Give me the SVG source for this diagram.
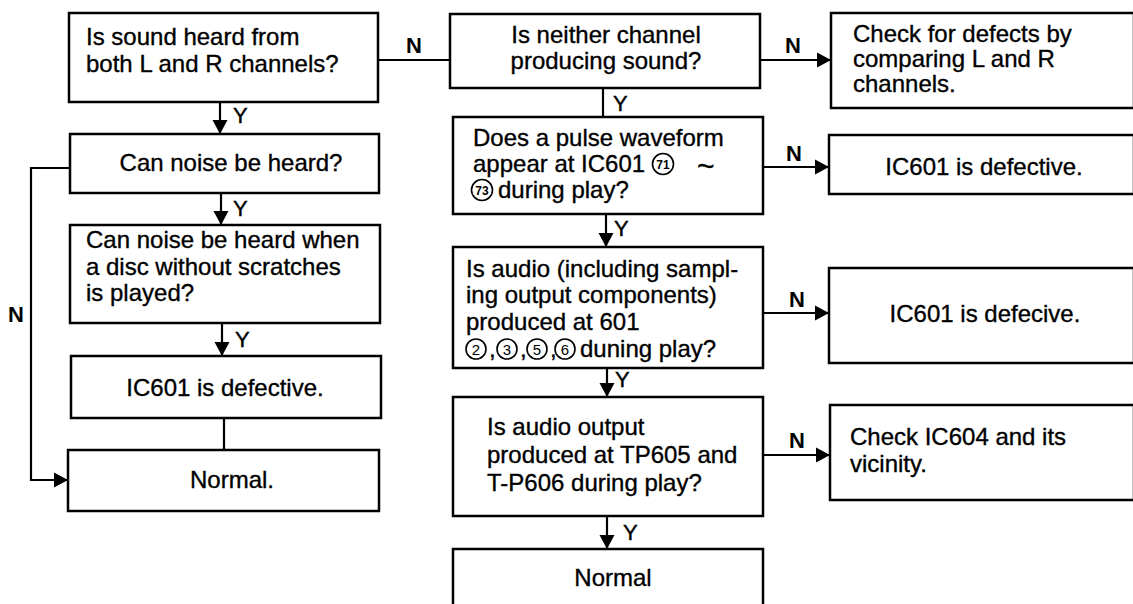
<svg xmlns="http://www.w3.org/2000/svg" width="1133" height="604" viewBox="0 0 1133 604">
<style>
.box{fill:#fff;stroke:#000;stroke-width:2.5}
.t{font-family:"Liberation Sans",Arial,sans-serif;font-size:24px;fill:#000;stroke:#000;stroke-width:0.35}
.c{text-anchor:middle}
.lbl{font-family:"Liberation Sans",Arial,sans-serif;font-size:22px;fill:#000;stroke:#000;stroke-width:0.4}
.n{font-weight:bold;stroke-width:0}
.ln{fill:none;stroke:#000;stroke-width:2.2}
.cir{fill:none;stroke:#000;stroke-width:1.6}
.cn{font-family:"Liberation Sans",Arial,sans-serif;font-size:12px;font-weight:bold;text-anchor:middle;fill:#000}
.cd{font-family:"Liberation Sans",Arial,sans-serif;font-size:15px;text-anchor:middle;fill:#000}
</style>
<defs>
<marker id="ah" markerUnits="userSpaceOnUse" markerWidth="16" markerHeight="16" refX="14" refY="8" orient="auto">
<path d="M0,0.5 L14,8 L0,15.5 Z" fill="#000"/>
</marker>
</defs>
<rect width="1133" height="604" fill="#fff"/>

<g id="connectors">
<path class="ln" d="M220,102 V134" marker-end="url(#ah)"/>
<path class="ln" d="M221,193 V225" marker-end="url(#ah)"/>
<path class="ln" d="M222,323 V356" marker-end="url(#ah)"/>
<path class="ln" d="M224,418 V450"/>
<path class="ln" d="M70,168 H31 V480 H68" marker-end="url(#ah)"/>
<path class="ln" d="M378,60 H450"/>
<path class="ln" d="M603,88 V117"/>
<path class="ln" d="M606,214 V247" marker-end="url(#ah)"/>
<path class="ln" d="M607,368 V397" marker-end="url(#ah)"/>
<path class="ln" d="M607,516 V549" marker-end="url(#ah)"/>
<path class="ln" d="M760,60 H831" marker-end="url(#ah)"/>
<path class="ln" d="M763,167 H829" marker-end="url(#ah)"/>
<path class="ln" d="M763,313 H829" marker-end="url(#ah)"/>
<path class="ln" d="M763,455 H830" marker-end="url(#ah)"/>
<text class="lbl" x="233" y="123">Y</text>
<text class="lbl" x="233" y="216">Y</text>
<text class="lbl" x="235" y="347">Y</text>
<text class="lbl n" x="8" y="322">N</text>
<text class="lbl n" x="406" y="53">N</text>
<text class="lbl" x="613" y="111">Y</text>
<text class="lbl" x="614" y="236">Y</text>
<text class="lbl" x="615" y="387">Y</text>
<text class="lbl" x="623" y="540">Y</text>
<text class="lbl n" x="785" y="53">N</text>
<text class="lbl n" x="786" y="161">N</text>
<text class="lbl n" x="789" y="307">N</text>
<text class="lbl n" x="789" y="448">N</text>
</g>

<g id="n1">
<rect class="box" x="69" y="13" width="309" height="89"/>
<text class="t" x="86" y="45">Is sound heard from</text>
<text class="t" x="86" y="72">both L and R channels?</text>
</g>
<g id="n2">
<rect class="box" x="70" y="134" width="309" height="59"/>
<text class="t c" x="231" y="171">Can noise be heard?</text>
</g>
<g id="n3">
<rect class="box" x="70" y="225" width="310" height="98"/>
<text class="t" x="86" y="248">Can noise be heard when</text>
<text class="t" x="86" y="275">a disc without scratches</text>
<text class="t" x="86" y="301">is played?</text>
</g>
<g id="n4">
<rect class="box" x="71" y="356" width="310" height="62"/>
<text class="t c" x="225" y="396">IC601 is defective.</text>
</g>
<g id="n5">
<rect class="box" x="68" y="450" width="311" height="61"/>
<text class="t c" x="232" y="488">Normal.</text>
</g>

<g id="n6">
<rect class="box" x="450" y="14" width="310" height="74"/>
<text class="t c" x="606" y="43">Is neither channel</text>
<text class="t c" x="606" y="69">producing sound?</text>
</g>
<g id="n7">
<rect class="box" x="453" y="117" width="310" height="97"/>
<text class="t" x="473" y="146">Does a pulse waveform</text>
<text class="t" x="473" y="172">appear at IC601</text>
<circle class="cir" cx="663" cy="164" r="10.5"/>
<text class="cn" x="663" y="168.5">71</text>
<text class="t" x="697" y="176" style="font-size:30px">~</text>
<circle class="cir" cx="482" cy="190" r="10.5"/>
<text class="cn" x="482" y="194.5">73</text>
<text class="t" x="498" y="198">during play?</text>
</g>
<g id="n8">
<rect class="box" x="453" y="247" width="310" height="121"/>
<text class="t" x="466" y="277">Is audio (including sampl-</text>
<text class="t" x="466" y="303">ing output components)</text>
<text class="t" x="466" y="330">produced at 601</text>
<circle class="cir" cx="476" cy="349" r="10"/>
<text class="cd" x="476" y="354.5">2</text>
<text class="t" x="489" y="357">,</text>
<circle class="cir" cx="507" cy="349" r="10"/>
<text class="cd" x="507" y="354.5">3</text>
<text class="t" x="520" y="357">,</text>
<circle class="cir" cx="537" cy="349" r="10"/>
<text class="cd" x="537" y="354.5">5</text>
<text class="t" x="550" y="357">,</text>
<circle class="cir" cx="565" cy="349" r="10"/>
<text class="cd" x="565" y="354.5">6</text>
<text class="t" x="580" y="357">duning play?</text>
</g>
<g id="n9">
<rect class="box" x="453" y="397" width="310" height="119"/>
<text class="t" x="487" y="435">Is audio output</text>
<text class="t" x="487" y="463">produced at TP605 and</text>
<text class="t" x="487" y="491">T-P606 during play?</text>
</g>
<g id="n10">
<rect class="box" x="453" y="549" width="310" height="70"/>
<text class="t c" x="613" y="586">Normal</text>
</g>

<g id="r1">
<rect class="box" x="831" y="13" width="303" height="95"/>
<text class="t" x="853" y="42">Check for defects by</text>
<text class="t" x="853" y="67">comparing L and R</text>
<text class="t" x="853" y="92">channels.</text>
</g>
<g id="r2">
<rect class="box" x="829" y="135" width="305" height="59"/>
<text class="t c" x="984" y="175">IC601 is defective.</text>
</g>
<g id="r3">
<rect class="box" x="829" y="268" width="305" height="95"/>
<text class="t c" x="985" y="322">IC601 is defecive.</text>
</g>
<g id="r4">
<rect class="box" x="830" y="405" width="304" height="95"/>
<text class="t" x="850" y="445">Check IC604 and its</text>
<text class="t" x="850" y="472">vicinity.</text>
</g>
</svg>
